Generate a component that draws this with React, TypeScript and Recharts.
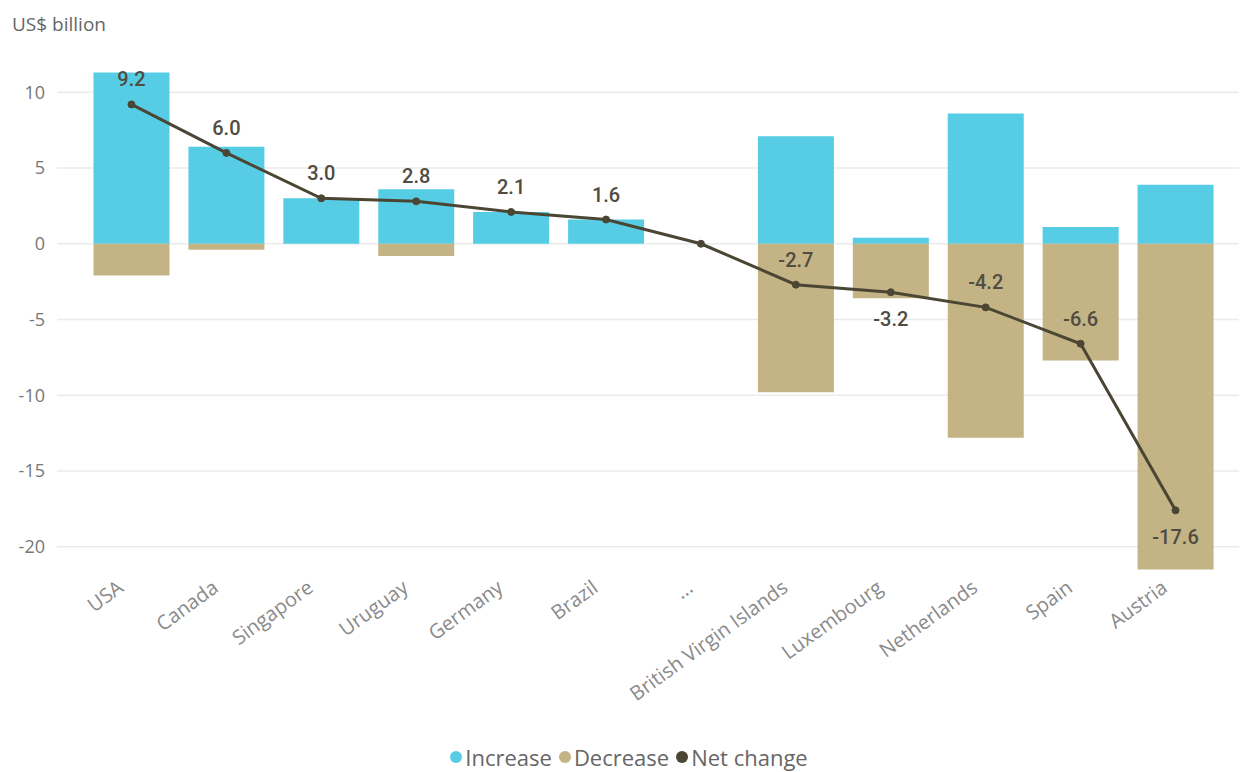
import { ComposedChart, Bar, Line, XAxis, YAxis, CartesianGrid, Legend, LabelList } from 'recharts';

const countries = ['USA', 'Canada', 'Singapore', 'Uruguay', 'Germany', 'Brazil', '...', 'British Virgin Islands', 'Luxembourg', 'Netherlands', 'Spain', 'Austria'];
const increase = [11.3, 6.4, 3.0, 3.6, 2.1, 1.6, 0, 7.1, 0.4, 8.6, 1.1, 3.9];
const decrease = [-2.1, -0.4, 0, -0.8, 0, 0, 0, -9.8, -3.6, -12.8, -7.7, -21.5];
const netChange = [9.2, 6.0, 3.0, 2.8, 2.1, 1.6, 0, -2.7, -3.2, -4.2, -6.6, -17.6];
const yTicks = [-20, -15, -10, -5, 0, 5, 10];
const labelsBelow = ['Luxembourg', 'Austria'];

const COLORS = { increase: '#56cde5', decrease: '#c4b385', net: '#4a4633' };
const legendItems = [
  { name: 'Increase', color: COLORS.increase },
  { name: 'Decrease', color: COLORS.decrease },
  { name: 'Net change', color: COLORS.net },
];

const data = countries.map((c, i) => ({
  country: c,
  increase: increase[i],
  decrease: decrease[i],
  net: netChange[i],
}));

const FONT = '"Open Sans", "Noto Sans", sans-serif';

function NetLabel(props: any) {
  const { x, y, value, index } = props;
  const name = countries[index];
  if (name === '...') return null;
  const below = labelsBelow.includes(name);
  return (
    <text
      x={x}
      y={below ? y + 34 : y - 18}
      textAnchor="middle"
      fontFamily="Roboto, sans-serif"
      fontWeight={500}
      fontSize={20}
      fill="#4f4c42"
    >
      {Number(value).toFixed(1)}
    </text>
  );
}

function CountryTick(props: any) {
  const { x, y, payload } = props;
  const tx = x - 15;
  const ty = y - 6;
  return (
    <text
      x={tx}
      y={ty}
      dy="0.71em"
      textAnchor="end"
      transform={`rotate(-36, ${tx}, ${ty})`}
      fontFamily={FONT}
      fontSize={20}
      fill="#8a8a8a"
    >
      {payload.value}
    </text>
  );
}

function LegendContent() {
  return (
    <div style={{ display: 'flex', justifyContent: 'center', alignItems: 'center', fontFamily: FONT, fontSize: 22, color: '#666', paddingLeft: 10 }}>
      {legendItems.map((it) => (
        <span key={it.name} style={{ display: 'inline-flex', alignItems: 'center', marginRight: 7 }}>
          <span style={{ width: 12, height: 12, borderRadius: 6, background: it.color, display: 'inline-block', marginRight: 3 }} />
          {it.name}
        </span>
      ))}
    </div>
  );
}

export default function App() {
  return (
    <div style={{ position: 'relative', width: 1239, height: 764, fontFamily: FONT }}>
      <div style={{ position: 'absolute', left: 4, top: 3, fontSize: 19, color: '#666' }}>US$ billion</div>
      <ComposedChart
        width={1239}
        height={764}
        data={data}
        stackOffset="sign"
        barCategoryGap="10%"
        margin={{ top: 54, right: 0, bottom: 0, left: 0 }}
      >
        <CartesianGrid vertical={false} horizontalValues={yTicks} stroke="#ebebeb" strokeWidth={1.5} />
        <XAxis
          dataKey="country"
          axisLine={false}
          tickLine={false}
          interval={0}
          height={165}
          padding={{ left: 27, right: 24 }}
          tick={<CountryTick />}
        />
        <YAxis
          domain={[-22, 12]}
          ticks={yTicks}
          axisLine={false}
          tickLine={false}
          tickSize={0}
          tickMargin={12}
          width={49}
          tick={{ fontSize: 18, fill: '#777', fontFamily: FONT }}
        />
        <Legend verticalAlign="bottom" align="center" height={30} content={<LegendContent />} />
        <Bar dataKey="increase" name="Increase" stackId="a" fill={COLORS.increase} isAnimationActive={false} />
        <Bar dataKey="decrease" name="Decrease" stackId="a" fill={COLORS.decrease} isAnimationActive={false} />
        <Line
          dataKey="net"
          name="Net change"
          stroke={COLORS.net}
          strokeWidth={3}
          dot={{ r: 3.5, fill: COLORS.net, stroke: COLORS.net, strokeWidth: 1 }}
          activeDot={false}
          isAnimationActive={false}
        >
          <LabelList dataKey="net" content={<NetLabel />} />
        </Line>
      </ComposedChart>
    </div>
  );
}
